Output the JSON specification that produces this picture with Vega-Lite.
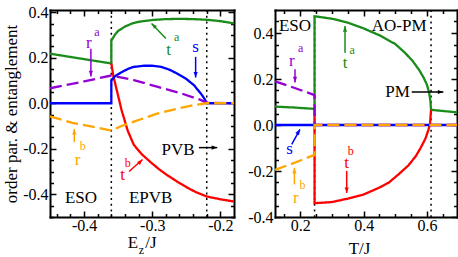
{
  "$schema": "https://vega.github.io/schema/vega-lite/v6.json",
  "background": "white",
  "padding": {"left": 2, "top": 4, "right": 3, "bottom": 0},
  "spacing": 8,
  "config": {
    "view": {"stroke": null},
    "axis": {"domainColor": "black", "domainWidth": 2, "domainCap": "square", "tickColor": "black", "tickWidth": 1.5, "labelFont": "Liberation Serif, Times New Roman, DejaVu Serif, serif", "labelFontSize": 16, "labelColor": "black", "titleFont": "Liberation Serif, Times New Roman, DejaVu Serif, serif", "titleFontSize": 17, "titleFontWeight": "normal", "titleColor": "black", "grid": false, "labelFlush": false, "labelOverlap": false, "labelBound": false},
    "text": {"font": "Liberation Serif, Times New Roman, DejaVu Serif, serif"}
  },
  "datasets": {
    "lv": [{"x": -0.36}, {"x": -0.22}],
    "rv": [{"x": 0.245}, {"x": 0.613}],
    "lc": [
      {"s": "ta", "i": 0, "x": -0.45, "y": 0.218}, {"s": "ta", "i": 1, "x": -0.40, "y": 0.194}, {"s": "ta", "i": 2, "x": -0.36, "y": 0.175}, {"s": "ta", "i": 3, "x": -0.36, "y": 0.275}, {"s": "ta", "i": 4, "x": -0.355, "y": 0.300}, {"s": "ta", "i": 5, "x": -0.35, "y": 0.318}, {"s": "ta", "i": 6, "x": -0.34, "y": 0.337}, {"s": "ta", "i": 7, "x": -0.33, "y": 0.350}, {"s": "ta", "i": 8, "x": -0.32, "y": 0.358}, {"s": "ta", "i": 9, "x": -0.30, "y": 0.366}, {"s": "ta", "i": 10, "x": -0.28, "y": 0.370}, {"s": "ta", "i": 11, "x": -0.26, "y": 0.371}, {"s": "ta", "i": 12, "x": -0.24, "y": 0.370}, {"s": "ta", "i": 13, "x": -0.22, "y": 0.367}, {"s": "ta", "i": 14, "x": -0.20, "y": 0.361}, {"s": "ta", "i": 15, "x": -0.18, "y": 0.351},
      {"s": "tb", "i": 16, "x": -0.36, "y": 0.175}, {"s": "tb", "i": 17, "x": -0.357, "y": 0.12}, {"s": "tb", "i": 18, "x": -0.353, "y": 0.07}, {"s": "tb", "i": 19, "x": -0.349, "y": 0.02}, {"s": "tb", "i": 20, "x": -0.345, "y": -0.03}, {"s": "tb", "i": 21, "x": -0.341, "y": -0.07}, {"s": "tb", "i": 22, "x": -0.336, "y": -0.12}, {"s": "tb", "i": 23, "x": -0.327, "y": -0.183}, {"s": "tb", "i": 24, "x": -0.315, "y": -0.225}, {"s": "tb", "i": 25, "x": -0.302, "y": -0.26}, {"s": "tb", "i": 26, "x": -0.29, "y": -0.29}, {"s": "tb", "i": 27, "x": -0.278, "y": -0.316}, {"s": "tb", "i": 28, "x": -0.263, "y": -0.345}, {"s": "tb", "i": 29, "x": -0.248, "y": -0.372}, {"s": "tb", "i": 30, "x": -0.235, "y": -0.392}, {"s": "tb", "i": 31, "x": -0.22, "y": -0.41}, {"s": "tb", "i": 32, "x": -0.20, "y": -0.422}, {"s": "tb", "i": 33, "x": -0.18, "y": -0.432},
      {"s": "s", "i": 34, "x": -0.45, "y": 0}, {"s": "s", "i": 35, "x": -0.36, "y": 0}, {"s": "s", "i": 36, "x": -0.36, "y": 0.1}, {"s": "s", "i": 37, "x": -0.355, "y": 0.118}, {"s": "s", "i": 38, "x": -0.346, "y": 0.135}, {"s": "s", "i": 39, "x": -0.335, "y": 0.152}, {"s": "s", "i": 40, "x": -0.327, "y": 0.16}, {"s": "s", "i": 41, "x": -0.312, "y": 0.165}, {"s": "s", "i": 42, "x": -0.30, "y": 0.165}, {"s": "s", "i": 43, "x": -0.287, "y": 0.16}, {"s": "s", "i": 44, "x": -0.275, "y": 0.148}, {"s": "s", "i": 45, "x": -0.263, "y": 0.13}, {"s": "s", "i": 46, "x": -0.25, "y": 0.107}, {"s": "s", "i": 47, "x": -0.239, "y": 0.08}, {"s": "s", "i": 48, "x": -0.232, "y": 0.055}, {"s": "s", "i": 49, "x": -0.227, "y": 0.036}, {"s": "s", "i": 50, "x": -0.223, "y": 0.018}, {"s": "s", "i": 51, "x": -0.22, "y": 0}, {"s": "s", "i": 52, "x": -0.18, "y": 0},
      {"s": "ra", "i": 53, "x": -0.45, "y": 0.066}, {"s": "ra", "i": 54, "x": -0.40, "y": 0.096}, {"s": "ra", "i": 55, "x": -0.36, "y": 0.122}, {"s": "ra", "i": 56, "x": -0.327, "y": 0.102}, {"s": "ra", "i": 57, "x": -0.293, "y": 0.073}, {"s": "ra", "i": 58, "x": -0.258, "y": 0.044}, {"s": "ra", "i": 59, "x": -0.229, "y": 0.015}, {"s": "ra", "i": 60, "x": -0.22, "y": 0.002}, {"s": "ra", "i": 61, "x": -0.18, "y": 0},
      {"s": "rb", "i": 62, "x": -0.45, "y": -0.058}, {"s": "rb", "i": 63, "x": -0.417, "y": -0.086}, {"s": "rb", "i": 64, "x": -0.36, "y": -0.12}, {"s": "rb", "i": 65, "x": -0.345, "y": -0.10}, {"s": "rb", "i": 66, "x": -0.327, "y": -0.081}, {"s": "rb", "i": 67, "x": -0.293, "y": -0.046}, {"s": "rb", "i": 68, "x": -0.258, "y": -0.02}, {"s": "rb", "i": 69, "x": -0.235, "y": -0.006}, {"s": "rb", "i": 70, "x": -0.22, "y": 0}, {"s": "rb", "i": 71, "x": -0.18, "y": 0}
    ],
    "rc": [
      {"s": "ta", "i": 0, "x": 0.12, "y": 0.08}, {"s": "ta", "i": 1, "x": 0.18, "y": 0.076}, {"s": "ta", "i": 2, "x": 0.245, "y": 0.07}, {"s": "ta", "i": 3, "x": 0.245, "y": 0.473}, {"s": "ta", "i": 4, "x": 0.30, "y": 0.462}, {"s": "ta", "i": 5, "x": 0.35, "y": 0.445}, {"s": "ta", "i": 6, "x": 0.40, "y": 0.42}, {"s": "ta", "i": 7, "x": 0.45, "y": 0.39}, {"s": "ta", "i": 8, "x": 0.50, "y": 0.352}, {"s": "ta", "i": 9, "x": 0.53, "y": 0.315}, {"s": "ta", "i": 10, "x": 0.555, "y": 0.278}, {"s": "ta", "i": 11, "x": 0.575, "y": 0.24}, {"s": "ta", "i": 12, "x": 0.59, "y": 0.205}, {"s": "ta", "i": 13, "x": 0.60, "y": 0.175}, {"s": "ta", "i": 14, "x": 0.607, "y": 0.14}, {"s": "ta", "i": 15, "x": 0.611, "y": 0.105}, {"s": "ta", "i": 16, "x": 0.613, "y": 0.066}, {"s": "ta", "i": 17, "x": 0.65, "y": 0.061}, {"s": "ta", "i": 18, "x": 0.695, "y": 0.055},
      {"s": "tb", "i": 19, "x": 0.245, "y": 0.07}, {"s": "tb", "i": 20, "x": 0.245, "y": -0.34}, {"s": "tb", "i": 21, "x": 0.30, "y": -0.335}, {"s": "tb", "i": 22, "x": 0.35, "y": -0.32}, {"s": "tb", "i": 23, "x": 0.40, "y": -0.302}, {"s": "tb", "i": 24, "x": 0.45, "y": -0.272}, {"s": "tb", "i": 25, "x": 0.48, "y": -0.25}, {"s": "tb", "i": 26, "x": 0.51, "y": -0.215}, {"s": "tb", "i": 27, "x": 0.542, "y": -0.175}, {"s": "tb", "i": 28, "x": 0.565, "y": -0.135}, {"s": "tb", "i": 29, "x": 0.58, "y": -0.10}, {"s": "tb", "i": 30, "x": 0.595, "y": -0.06}, {"s": "tb", "i": 31, "x": 0.605, "y": -0.02}, {"s": "tb", "i": 32, "x": 0.61, "y": 0.01}, {"s": "tb", "i": 33, "x": 0.613, "y": 0.066},
      {"s": "s", "i": 34, "x": 0.12, "y": 0}, {"s": "s", "i": 35, "x": 0.695, "y": 0},
      {"s": "ra", "i": 36, "x": 0.12, "y": 0.19}, {"s": "ra", "i": 37, "x": 0.18, "y": 0.162}, {"s": "ra", "i": 38, "x": 0.245, "y": 0.13}, {"s": "ra", "i": 39, "x": 0.245, "y": 0}, {"s": "ra", "i": 40, "x": 0.695, "y": 0},
      {"s": "rb", "i": 41, "x": 0.12, "y": -0.195}, {"s": "rb", "i": 42, "x": 0.18, "y": -0.165}, {"s": "rb", "i": 43, "x": 0.245, "y": -0.13}, {"s": "rb", "i": 44, "x": 0.245, "y": 0}, {"s": "rb", "i": 45, "x": 0.695, "y": 0}
    ],
    "la": [
      {"s": "ra", "x": -0.39, "y": 0.24, "x2": -0.39, "y2": 0.118, "h": "down"},
      {"s": "ta", "x": -0.280, "y": 0.285, "x2": -0.301, "y2": 0.351, "h": "upleft"},
      {"s": "s", "x": -0.2363, "y": 0.204, "x2": -0.2363, "y2": 0.113, "h": "down"},
      {"s": "rb", "x": -0.4144, "y": -0.171, "x2": -0.4144, "y2": -0.113, "h": "up"},
      {"s": "tb", "x": -0.334, "y": -0.300, "x2": -0.3143, "y2": -0.2474, "h": "upright"},
      {"s": "k", "x": -0.2315, "y": -0.195, "x2": -0.2046, "y2": -0.195, "h": "right"}
    ],
    "ra": [
      {"s": "ta", "x": 0.3412, "y": 0.314, "x2": 0.3412, "y2": 0.43, "h": "up"},
      {"s": "ra", "x": 0.1832, "y": 0.242, "x2": 0.1832, "y2": 0.185, "h": "down"},
      {"s": "k", "x": 0.552, "y": 0.1435, "x2": 0.652, "y2": 0.1435, "h": "right"},
      {"s": "s", "x": 0.1728, "y": -0.0839, "x2": 0.199, "y2": -0.0187, "h": "upright60"},
      {"s": "rb", "x": 0.1813, "y": -0.258, "x2": 0.1813, "y2": -0.186, "h": "up"},
      {"s": "tb", "x": 0.3465, "y": -0.2, "x2": 0.3465, "y2": -0.2957, "h": "down"}
    ],
    "lt": [
      {"s": "ra", "x": -0.393, "y": 0.243, "t": "r"},
      {"s": "ta", "x": -0.276, "y": 0.212, "t": "t"},
      {"s": "s", "x": -0.2363, "y": 0.226, "t": "s"},
      {"s": "rb", "x": -0.4095, "y": -0.271, "t": "r"},
      {"s": "tb", "x": -0.3436, "y": -0.336, "t": "t"},
      {"s": "k", "x": -0.262, "y": -0.2268, "t": "PVB"},
      {"s": "k", "x": -0.4046, "y": -0.4386, "t": "ESO"},
      {"s": "k", "x": -0.3022, "y": -0.4386, "t": "EPVB"},
      {"s": "k", "x": -0.3282, "y": -0.638, "t": "E"},
      {"s": "k", "x": -0.3018, "y": -0.638, "t": "/J"}
    ],
    "ls": [
      {"s": "ra", "x": -0.381, "y": 0.295, "t": "a"},
      {"s": "ta", "x": -0.264, "y": 0.272, "t": "a"},
      {"s": "rb", "x": -0.402, "y": -0.206, "t": "b"},
      {"s": "tb", "x": -0.336, "y": -0.281, "t": "b"},
      {"s": "k", "x": -0.3157, "y": -0.662, "t": "z"}
    ],
    "rt": [
      {"s": "k", "x": 0.1832, "y": 0.4087, "t": "ESO"},
      {"s": "k", "x": 0.5124, "y": 0.4087, "t": "AO-PM"},
      {"s": "ta", "x": 0.3412, "y": 0.249, "t": "t"},
      {"s": "ra", "x": 0.1728, "y": 0.2565, "t": "r"},
      {"s": "k", "x": 0.507, "y": 0.123, "t": "PM"},
      {"s": "s", "x": 0.1664, "y": -0.1274, "t": "s"},
      {"s": "rb", "x": 0.186, "y": -0.338, "t": "r"},
      {"s": "tb", "x": 0.3465, "y": -0.1857, "t": "t"}
    ],
    "rs": [
      {"s": "ta", "x": 0.3635, "y": 0.31, "t": "a"},
      {"s": "ra", "x": 0.201, "y": 0.317, "t": "a"},
      {"s": "rb", "x": 0.2065, "y": -0.277, "t": "b"},
      {"s": "tb", "x": 0.359, "y": -0.132, "t": "b"}
    ]
  },
  "hconcat": [
    {
      "width": 184,
      "height": 207,
      "resolve": {"axis": {"x": "independent", "y": "independent"}},
      "layer": [
        {
          "data": {"name": "lv"},
          "mark": {"type": "rule", "color": "black", "strokeWidth": 1.5, "strokeDash": [2, 3.7]},
          "encoding": {"x": {"field": "x", "type": "quantitative", "axis": null, "scale": {"domain": [-0.45, -0.18], "nice": false, "zero": false}}}
        },
        {
          "data": {"name": "lc"},
          "mark": {"type": "line", "strokeWidth": 2.3},
          "encoding": {
            "x": {"field": "x", "type": "quantitative", "scale": {"domain": [-0.45, -0.18], "nice": false, "zero": false},
              "axis": {"orient": "bottom", "title": null, "values": [-0.44, -0.42, -0.4, -0.38, -0.36, -0.34, -0.32, -0.3, -0.28, -0.26, -0.24, -0.22, -0.2],
                "labelExpr": "abs(datum.value*10 - round(datum.value*10)) < 0.001 ? replace(format(datum.value, '.1f'), '\u2212', '-') : ''",
                "tickSize": {"condition": {"test": "abs(datum.value*10 - round(datum.value*10)) < 0.001", "value": -6}, "value": -3.5}, "labelPadding": 6}},
            "y": {"field": "y", "type": "quantitative", "scale": {"domain": [-0.5, 0.41], "nice": false, "zero": false},
              "axis": {"orient": "left", "title": "order par. & entanglement", "titlePadding": 2, "values": [-0.5, -0.45, -0.4, -0.35, -0.3, -0.25, -0.2, -0.15, -0.1, -0.05, 0, 0.05, 0.1, 0.15, 0.2, 0.25, 0.3, 0.35, 0.4],
                "labelExpr": "abs(datum.value*5 - round(datum.value*5)) < 0.001 && datum.value > -0.45 ? replace(format(datum.value, '.1f'), '\u2212', '-') : ''",
                "tickSize": {"condition": {"test": "abs(datum.value*5 - round(datum.value*5)) < 0.001", "value": -6}, "value": -3.5}, "labelPadding": 8}},
            "color": {"field": "s", "type": "nominal", "legend": null, "scale": {"domain": ["ta", "tb", "s", "ra", "rb", "k"], "range": ["#1a8c1a", "#ff0000", "#0000ff", "#9400d3", "#ffa500", "#000000"]}},
            "strokeDash": {"field": "s", "type": "nominal", "legend": null, "scale": {"domain": ["ta", "tb", "s", "ra", "rb"], "range": [[1, 0], [1, 0], [1, 0], [12, 5], [12, 5]]}},
            "order": {"field": "i", "type": "quantitative"}
          }
        },
        {
          "data": {"name": "lc"},
          "mark": {"type": "point", "opacity": 0},
          "encoding": {
            "x": {"field": "x", "type": "quantitative", "scale": {"domain": [-0.45, -0.18], "nice": false, "zero": false},
              "axis": {"orient": "top", "title": null, "labels": false, "values": [-0.44, -0.42, -0.4, -0.38, -0.36, -0.34, -0.32, -0.3, -0.28, -0.26, -0.24, -0.22, -0.2],
                "tickSize": {"condition": {"test": "abs(datum.value*10 - round(datum.value*10)) < 0.001", "value": -6}, "value": -3.5}}},
            "y": {"field": "y", "type": "quantitative", "scale": {"domain": [-0.5, 0.41], "nice": false, "zero": false},
              "axis": {"orient": "right", "title": null, "labels": false, "values": [-0.5, -0.45, -0.4, -0.35, -0.3, -0.25, -0.2, -0.15, -0.1, -0.05, 0, 0.05, 0.1, 0.15, 0.2, 0.25, 0.3, 0.35, 0.4],
                "tickSize": {"condition": {"test": "abs(datum.value*5 - round(datum.value*5)) < 0.001", "value": -6}, "value": -3.5}}}
          }
        },
        {
          "data": {"name": "la"},
          "mark": {"type": "rule", "strokeWidth": 1.5},
          "encoding": {
            "x": {"field": "x", "type": "quantitative", "axis": null},
            "y": {"field": "y", "type": "quantitative", "axis": null},
            "x2": {"field": "x2"},
            "y2": {"field": "y2"},
            "color": {"field": "s", "type": "nominal", "legend": null, "scale": {"domain": ["ta", "tb", "s", "ra", "rb", "k"], "range": ["#1a8c1a", "#ff0000", "#0000ff", "#9400d3", "#ffa500", "#000000"]}}
          }
        },
        {
          "data": {"name": "la"},
          "mark": {"type": "point", "filled": true, "opacity": 1, "size": 49, "strokeWidth": 0},
          "encoding": {
            "x": {"field": "x2", "type": "quantitative", "axis": null},
            "y": {"field": "y2", "type": "quantitative", "axis": null},
            "shape": {"field": "h", "type": "nominal", "legend": null, "scale": {"domain": ["up", "down", "right", "upleft", "upright", "upright60"], "range": ["M0,0L0.6,1.6L-0.6,1.6Z", "M0,0L0.6,-1.6L-0.6,-1.6Z", "M0,0L-1.6,0.6L-1.6,-0.6Z", "M0,0L1.55,0.71L0.71,1.55Z", "M0,0L-1.55,0.71L-0.71,1.55Z", "M0,0L-0.28,1.69L-1.32,1.09Z"]}},
            "color": {"field": "s", "type": "nominal", "legend": null, "scale": {"domain": ["ta", "tb", "s", "ra", "rb", "k"], "range": ["#1a8c1a", "#ff0000", "#0000ff", "#9400d3", "#ffa500", "#000000"]}}
          }
        },
        {
          "data": {"name": "lt"},
          "mark": {"type": "text", "fontSize": 17, "align": "center", "baseline": "alphabetic"},
          "encoding": {
            "x": {"field": "x", "type": "quantitative", "axis": null},
            "y": {"field": "y", "type": "quantitative", "axis": null},
            "text": {"field": "t"},
            "color": {"field": "s", "type": "nominal", "legend": null, "scale": {"domain": ["ta", "tb", "s", "ra", "rb", "k"], "range": ["#1a8c1a", "#ff0000", "#0000ff", "#9400d3", "#ffa500", "#000000"]}}
          }
        },
        {
          "data": {"name": "ls"},
          "mark": {"type": "text", "fontSize": 12, "align": "center", "baseline": "alphabetic"},
          "encoding": {
            "x": {"field": "x", "type": "quantitative", "axis": null},
            "y": {"field": "y", "type": "quantitative", "axis": null},
            "text": {"field": "t"},
            "color": {"field": "s", "type": "nominal", "legend": null, "scale": {"domain": ["ta", "tb", "s", "ra", "rb", "k"], "range": ["#1a8c1a", "#ff0000", "#0000ff", "#9400d3", "#ffa500", "#000000"]}}
          }
        }
      ]
    },
    {
      "width": 182,
      "height": 207,
      "resolve": {"axis": {"x": "independent", "y": "independent"}},
      "layer": [
        {
          "data": {"name": "rv"},
          "mark": {"type": "rule", "color": "black", "strokeWidth": 1.5, "strokeDash": [2, 3.7]},
          "encoding": {"x": {"field": "x", "type": "quantitative", "axis": null, "scale": {"domain": [0.12, 0.695], "nice": false, "zero": false}}}
        },
        {
          "data": {"name": "rc"},
          "mark": {"type": "line", "strokeWidth": 2.3},
          "encoding": {
            "x": {"field": "x", "type": "quantitative", "scale": {"domain": [0.12, 0.695], "nice": false, "zero": false},
              "axis": {"orient": "bottom", "title": "T/J", "titleX": 84, "titleY": 36, "titleBaseline": "alphabetic", "values": [0.15, 0.2, 0.25, 0.3, 0.35, 0.4, 0.45, 0.5, 0.55, 0.6, 0.65],
                "labelExpr": "abs(datum.value*5 - round(datum.value*5)) < 0.001 ? format(datum.value, '.1f') : ''",
                "tickSize": {"condition": {"test": "abs(datum.value*5 - round(datum.value*5)) < 0.001", "value": -6}, "value": -3.5}, "labelPadding": 6}},
            "y": {"field": "y", "type": "quantitative", "scale": {"domain": [-0.4, 0.5], "nice": false, "zero": false},
              "axis": {"orient": "left", "title": null, "values": [-0.4, -0.35, -0.3, -0.25, -0.2, -0.15, -0.1, -0.05, 0, 0.05, 0.1, 0.15, 0.2, 0.25, 0.3, 0.35, 0.4, 0.45],
                "labelExpr": "abs(datum.value*5 - round(datum.value*5)) < 0.001 ? replace(format(datum.value, '.1f'), '\u2212', '-') : ''",
                "tickSize": {"condition": {"test": "abs(datum.value*5 - round(datum.value*5)) < 0.001", "value": -6}, "value": -3.5}, "labelPadding": 8}},
            "color": {"field": "s", "type": "nominal", "legend": null, "scale": {"domain": ["ta", "tb", "s", "ra", "rb", "k"], "range": ["#1a8c1a", "#ff0000", "#0000ff", "#9400d3", "#ffa500", "#000000"]}},
            "strokeDash": {"field": "s", "type": "nominal", "legend": null, "scale": {"domain": ["ta", "tb", "s", "ra", "rb"], "range": [[1, 0], [1, 0], [1, 0], [12, 5], [12, 5]]}},
            "order": {"field": "i", "type": "quantitative"}
          }
        },
        {
          "data": {"name": "rc"},
          "mark": {"type": "point", "opacity": 0},
          "encoding": {
            "x": {"field": "x", "type": "quantitative", "scale": {"domain": [0.12, 0.695], "nice": false, "zero": false},
              "axis": {"orient": "top", "title": null, "labels": false, "values": [0.15, 0.2, 0.25, 0.3, 0.35, 0.4, 0.45, 0.5, 0.55, 0.6, 0.65],
                "tickSize": {"condition": {"test": "abs(datum.value*5 - round(datum.value*5)) < 0.001", "value": -6}, "value": -3.5}}},
            "y": {"field": "y", "type": "quantitative", "scale": {"domain": [-0.4, 0.5], "nice": false, "zero": false},
              "axis": {"orient": "right", "title": null, "labels": false, "values": [-0.4, -0.35, -0.3, -0.25, -0.2, -0.15, -0.1, -0.05, 0, 0.05, 0.1, 0.15, 0.2, 0.25, 0.3, 0.35, 0.4, 0.45],
                "tickSize": {"condition": {"test": "abs(datum.value*5 - round(datum.value*5)) < 0.001", "value": -6}, "value": -3.5}}}
          }
        },
        {
          "data": {"name": "ra"},
          "mark": {"type": "rule", "strokeWidth": 1.5},
          "encoding": {
            "x": {"field": "x", "type": "quantitative", "axis": null},
            "y": {"field": "y", "type": "quantitative", "axis": null},
            "x2": {"field": "x2"},
            "y2": {"field": "y2"},
            "color": {"field": "s", "type": "nominal", "legend": null, "scale": {"domain": ["ta", "tb", "s", "ra", "rb", "k"], "range": ["#1a8c1a", "#ff0000", "#0000ff", "#9400d3", "#ffa500", "#000000"]}}
          }
        },
        {
          "data": {"name": "ra"},
          "mark": {"type": "point", "filled": true, "opacity": 1, "size": 49, "strokeWidth": 0},
          "encoding": {
            "x": {"field": "x2", "type": "quantitative", "axis": null},
            "y": {"field": "y2", "type": "quantitative", "axis": null},
            "shape": {"field": "h", "type": "nominal", "legend": null, "scale": {"domain": ["up", "down", "right", "upleft", "upright", "upright60"], "range": ["M0,0L0.6,1.6L-0.6,1.6Z", "M0,0L0.6,-1.6L-0.6,-1.6Z", "M0,0L-1.6,0.6L-1.6,-0.6Z", "M0,0L1.55,0.71L0.71,1.55Z", "M0,0L-1.55,0.71L-0.71,1.55Z", "M0,0L-0.28,1.69L-1.32,1.09Z"]}},
            "color": {"field": "s", "type": "nominal", "legend": null, "scale": {"domain": ["ta", "tb", "s", "ra", "rb", "k"], "range": ["#1a8c1a", "#ff0000", "#0000ff", "#9400d3", "#ffa500", "#000000"]}}
          }
        },
        {
          "data": {"name": "rt"},
          "mark": {"type": "text", "fontSize": 17, "align": "center", "baseline": "alphabetic"},
          "encoding": {
            "x": {"field": "x", "type": "quantitative", "axis": null},
            "y": {"field": "y", "type": "quantitative", "axis": null},
            "text": {"field": "t"},
            "color": {"field": "s", "type": "nominal", "legend": null, "scale": {"domain": ["ta", "tb", "s", "ra", "rb", "k"], "range": ["#1a8c1a", "#ff0000", "#0000ff", "#9400d3", "#ffa500", "#000000"]}}
          }
        },
        {
          "data": {"name": "rs"},
          "mark": {"type": "text", "fontSize": 12, "align": "center", "baseline": "alphabetic"},
          "encoding": {
            "x": {"field": "x", "type": "quantitative", "axis": null},
            "y": {"field": "y", "type": "quantitative", "axis": null},
            "text": {"field": "t"},
            "color": {"field": "s", "type": "nominal", "legend": null, "scale": {"domain": ["ta", "tb", "s", "ra", "rb", "k"], "range": ["#1a8c1a", "#ff0000", "#0000ff", "#9400d3", "#ffa500", "#000000"]}}
          }
        }
      ]
    }
  ]
}
